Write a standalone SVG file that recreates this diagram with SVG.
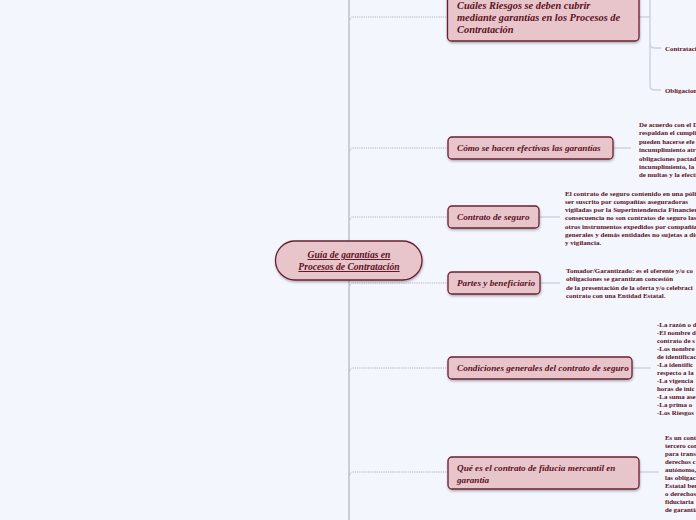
<svg xmlns="http://www.w3.org/2000/svg" width="696" height="520" viewBox="0 0 696 520">
<defs>
<filter id="sh" x="-10%" y="-20%" width="130%" height="150%">
<feDropShadow dx="0.5" dy="1.5" stdDeviation="1" flood-color="#000" flood-opacity="0.3"/>
</filter>
</defs>
<style>
.bg{fill:#f3f6fd}
.box{fill:#e8c5ca;stroke:#6b1f33;stroke-width:1.3;filter:url(#sh)}
.nt{font-family:"Liberation Serif",serif;font-weight:bold;font-style:italic;font-size:9.2px;fill:#5c1224}
.big{font-size:10.4px}
.ct{font-family:"Liberation Serif",serif;font-weight:bold;font-style:italic;font-size:9.6px;fill:#5c1224;text-decoration:underline}
.tx{font-family:"Liberation Serif",serif;font-weight:bold;font-size:6.9px;fill:#5c1224}
.wide{font-size:7.1px}
.trunk{stroke:#b4b4b8;stroke-width:1.2;fill:none}
.dot{stroke:#b4b4b8;stroke-width:1;stroke-dasharray:1.2 1;fill:none}
.sub{stroke:#cdd1dc;stroke-width:1.4;fill:none}
</style>
<rect class="bg" x="0" y="0" width="696" height="520"/>
<g id="connectors">
<line class="trunk" x1="349" y1="0" x2="349" y2="520"/>
<path class="dot" d="M350,20 Q350,17 353,17 L448,17"/>
<path class="dot" d="M350,151 Q350,148 353,148 L448,148"/>
<path class="dot" d="M350,220 Q350,217 353,217 L448,217"/>
<path class="dot" d="M350,286 Q350,283 353,283 L448,283"/>
<path class="dot" d="M350,371 Q350,368 353,368 L448,368"/>
<path class="dot" d="M350,475 Q350,472 353,472 L448,472"/>
<line class="sub" x1="639" y1="17" x2="650" y2="17"/>
<path class="sub" d="M650,0 L650,86 Q650,90 655,90 L661,90"/>
<path class="sub" d="M650,44 Q650,48 655,48 L661,48"/>
<line class="sub" x1="613" y1="148" x2="631" y2="148"/>
<line class="sub" x1="539" y1="217" x2="560" y2="217"/>
<line class="sub" x1="540" y1="283" x2="560" y2="283"/>
<line class="sub" x1="632" y1="368" x2="651" y2="368"/>
<line class="sub" x1="639" y1="472" x2="659" y2="472"/>
</g>
<g id="center">
<rect class="box" x="275.5" y="241" width="146.5" height="39" rx="19.5" stroke-width="1.6"/>
<text class="ct" x="349" y="258" text-anchor="middle">Guía de garantías en</text>
<text class="ct" x="349" y="270" text-anchor="middle">Procesos de Contratación</text>
</g>
<g id="n1">
<rect class="box" x="447.5" y="-10" width="191.5" height="51" rx="4"/>
<text class="nt big" x="457" y="9">Cuáles Riesgos se deben cubrir</text>
<text class="nt big" x="457" y="21">mediante garantías en los Procesos de</text>
<text class="nt big" x="457" y="33">Contratación</text>
</g>
<g id="n1a"><text class="tx" x="665" y="50.5">Contratació</text></g>
<g id="n1b"><text class="tx" x="665" y="92.5">Obligacion</text></g>
<g id="n2">
<rect class="box" x="448" y="137" width="165" height="22" rx="4"/>
<text class="nt" x="457" y="151.3">Cómo se hacen efectivas las garantías</text>
</g>
<g id="t2">
<text class="tx" x="639" y="127">De acuerdo con el D</text>
<text class="tx" x="639" y="135.4">respaldan el cumpli</text>
<text class="tx" x="639" y="143.8">pueden hacerse efe</text>
<text class="tx" x="639" y="152.2">incumplimiento atr</text>
<text class="tx" x="639" y="160.6">obligaciones pactad</text>
<text class="tx" x="639" y="169">incumplimiento, la</text>
<text class="tx" x="639" y="177.4">de multas y la efecti</text>
</g>
<g id="n3">
<rect class="box" x="448" y="206" width="91" height="22" rx="4"/>
<text class="nt" x="457" y="220.3">Contrato de seguro</text>
</g>
<g id="t3">
<text class="tx wide" x="565" y="195.5">El contrato de seguro contenido en una póli</text>
<text class="tx wide" x="565" y="203.8">ser suscrito por compañías aseguradoras</text>
<text class="tx wide" x="565" y="212.1">vigiladas por la Superintendencia Financier</text>
<text class="tx wide" x="565" y="220.4">consecuencia no son contratos de seguro las</text>
<text class="tx wide" x="565" y="228.7">otros instrumentos expedidos por compañías</text>
<text class="tx wide" x="565" y="237">generales y demás entidades no sujetas a dic</text>
<text class="tx wide" x="565" y="245.3">y vigilancia.</text>
</g>
<g id="n4">
<rect class="box" x="448" y="272" width="92" height="22" rx="4"/>
<text class="nt" x="457" y="286.3">Partes y beneficiario</text>
</g>
<g id="t4">
<text class="tx" x="566" y="273">Tomador/Garantizado: es el oferente y/o co</text>
<text class="tx" x="566" y="281.3">obligaciones se garantizan concesión</text>
<text class="tx" x="566" y="289.6"> de la presentación de la oferta y/o celebraci</text>
<text class="tx" x="566" y="297.9">contrato con una Entidad Estatal.</text>
</g>
<g id="n5">
<rect class="box" x="448" y="357" width="184" height="22" rx="4"/>
<text class="nt" x="457" y="371.3">Condiciones generales del contrato de seguro</text>
</g>
<g id="t5">
<text class="tx" x="657" y="326.5">-La razón o d</text>
<text class="tx" x="657" y="334.5">-El nombre d</text>
<text class="tx" x="657" y="342.5">contrato de s</text>
<text class="tx" x="657" y="350.5">-Los nombre</text>
<text class="tx" x="657" y="358.5">de identificac</text>
<text class="tx" x="657" y="366.5">-La identific</text>
<text class="tx" x="657" y="374.5">respecto a la</text>
<text class="tx" x="657" y="382.5">-La vigencia</text>
<text class="tx" x="657" y="390.5">horas de inic</text>
<text class="tx" x="657" y="398.5">-La suma ase</text>
<text class="tx" x="657" y="406.5">-La prima o</text>
<text class="tx" x="657" y="414.5">-Los Riesgos</text>
</g>
<g id="n6">
<rect class="box" x="448" y="457" width="191" height="32" rx="4"/>
<text class="nt" x="457" y="470.5">Qué es el contrato de fiducia mercantil en</text>
<text class="nt" x="457" y="482.5">garantía</text>
</g>
<g id="t6">
<text class="tx" x="665" y="439.5">Es un cont</text>
<text class="tx" x="665" y="447.5">tercero con</text>
<text class="tx" x="665" y="455.5">para trans</text>
<text class="tx" x="665" y="463.5">derechos c</text>
<text class="tx" x="665" y="471.5">autónomo,</text>
<text class="tx" x="665" y="479.5">las obligac</text>
<text class="tx" x="665" y="487.5">Estatal ben</text>
<text class="tx" x="665" y="495.5">o derechos</text>
<text class="tx" x="665" y="503.5">fiduciaria</text>
<text class="tx" x="665" y="511.5">de garantía</text>
</g>
</svg>
